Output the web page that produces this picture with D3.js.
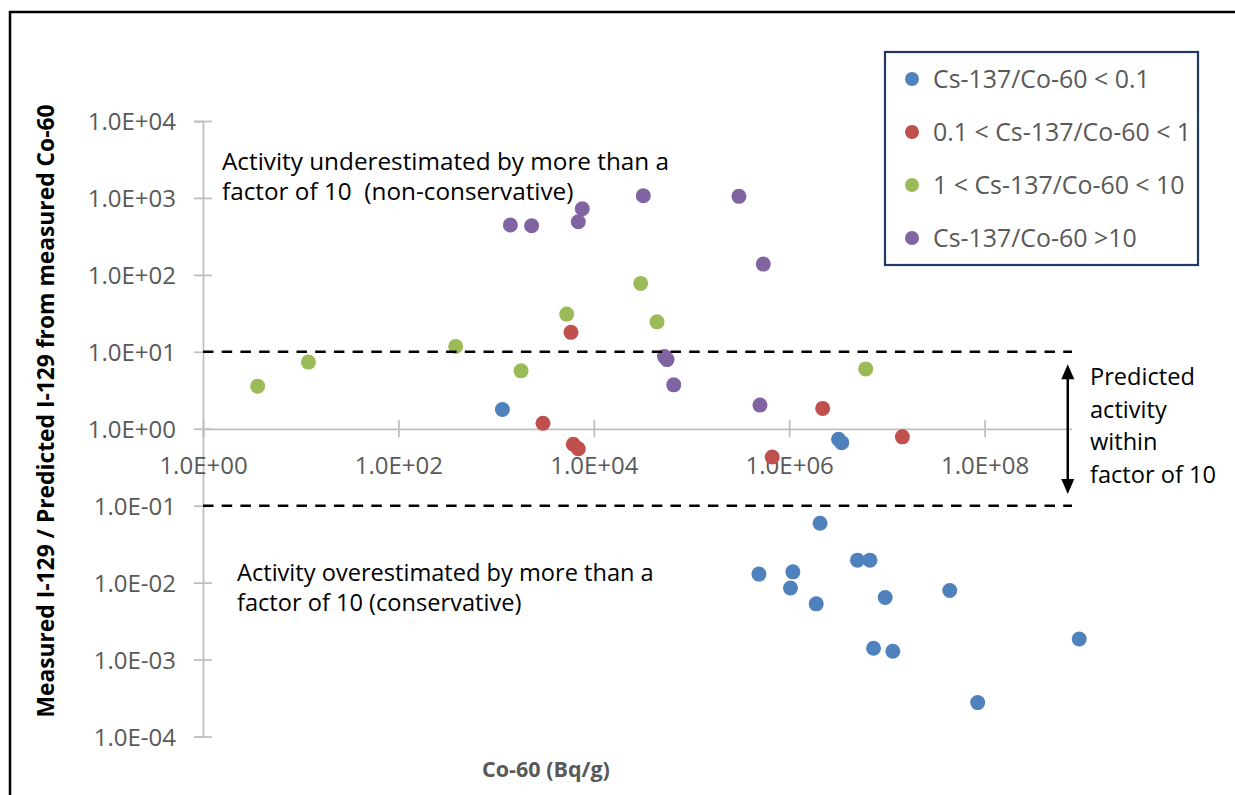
<!DOCTYPE html>
<html>
<head>
<meta charset="utf-8">
<script src="https://cdn.jsdelivr.net/npm/d3@7"></script>
<style>
  html, body { margin: 0; padding: 0; background: #fff; }
  svg { display: block; font-family: 'Open Sans', sans-serif; }
</style>
</head>
<body>
<svg id="chart" width="1235" height="795"></svg>
<script>
// Co-60 activity (Bq/g) and measured/predicted I-129 ratio, one pair of arrays per Cs-137/Co-60 group
const co60_lt01  = [1160, 2.07e6, 5.0e6, 6.7e6, 4.9e5, 1.09e6, 1.03e6, 1.89e6, 9.6e6, 4.4e7, 7.3e6, 1.15e7, 9.3e8, 8.5e7, 3.2e6, 3.45e6];
const ratio_lt01 = [1.78, 0.059, 0.0196, 0.0196, 0.0129, 0.0138, 0.0085, 0.0053, 0.0064, 0.0079, 0.0014, 0.00128, 0.00185, 0.000276, 0.73, 0.66];

const co60_01to1  = [5840, 3020, 6170, 6940, 6.7e5, 2.2e6, 1.44e7];
const ratio_01to1 = [17.9, 1.18, 0.63, 0.55, 0.43, 1.84, 0.785];

const co60_1to10  = [3.63, 12, 386, 1800, 5280, 3.02e4, 4.44e4, 6.07e6];
const ratio_1to10 = [3.58, 7.35, 11.75, 5.66, 30.9, 77.5, 24.5, 6.0];

const co60_gt10  = [1400, 2310, 6940, 7620, 3.21e4, 3.06e5, 5.43e5, 5.29e4, 5.62e4, 6.58e4, 5.02e5];
const ratio_gt10 = [444, 435, 490, 724, 1069, 1049, 138, 8.66, 7.92, 3.72, 2.03];

const seriesNames  = ['Cs-137/Co-60 < 0.1', '0.1 < Cs-137/Co-60 < 1', '1 < Cs-137/Co-60 < 10', 'Cs-137/Co-60 >10'];
const seriesColors = ['#4f81bd', '#c0504d', '#9bbb59', '#8064a2'];

const xTicks = [1, 1e2, 1e4, 1e6, 1e8];
const yTicks = [1e-4, 1e-3, 1e-2, 1e-1, 1, 1e1, 1e2, 1e3, 1e4];

// factor-of-10 band
const bandLimits = [10, 0.1];
const bandX = [1, 1e9];
const arrowX = 7.1e8;
const arrowY = [6.9, 0.142];

const noteUnder = ['Activity underestimated by more than a', 'factor of 10  (non-conservative)'];
const noteOver  = ['Activity overestimated by more than a', 'factor of 10 (conservative)'];
const noteBand  = ['Predicted', 'activity', 'within', 'factor of 10'];

const series = [
  [co60_lt01, ratio_lt01],
  [co60_01to1, ratio_01to1],
  [co60_1to10, ratio_1to10],
  [co60_gt10, ratio_gt10]
].map(([xs, ys], i) => ({ name: seriesNames[i], color: seriesColors[i], pts: xs.map((v, j) => ({ x: v, y: ys[j] })) }));

const svg = d3.select('#chart');

// chart frame (right/bottom edges fall outside the picture)
svg.append('rect')
  .attr('x', 10).attr('y', 12).attr('width', 1240).attr('height', 800)
  .attr('fill', '#fff').attr('stroke', '#000').attr('stroke-width', 2.5);

const x = d3.scaleLog().domain([1, 1e9]).range([203, 1082.3]);
const y = d3.scaleLog().domain([1e-4, 1e4]).range([736.5, 121]);

const fmtE = v => {
  const e = Math.round(Math.log10(v));
  return '1.0E' + (e < 0 ? '-' : '+') + String(Math.abs(e)).padStart(2, '0');
};
// keep runs of spaces visible in svg text
const keepSpaces = s => s.replace(/  /g, ' \u00a0');

const axisCol = '#bfbfbf';
const labelCol = '#595959';

// y axis
const gy = svg.append('g')
  .attr('transform', `translate(${x(1)},0)`)
  .call(d3.axisLeft(y).tickValues(yTicks).tickFormat(fmtE).tickSizeOuter(0).tickSize(9));
gy.select('.domain').attr('stroke', axisCol).attr('stroke-width', 1.75);
gy.selectAll('.tick line').attr('x1', 9).attr('x2', -9).attr('stroke', axisCol).attr('stroke-width', 1.75);
gy.selectAll('.tick text')
  .attr('x', -27).attr('dy', null).attr('y', 8.6)
  .attr('fill', labelCol).style('font-size', '24px').style('font-family', 'Open Sans');

// x axis crossing at y = 1
const gx = svg.append('g')
  .attr('transform', `translate(0,${y(1)})`)
  .call(d3.axisBottom(x).tickValues(xTicks).tickFormat(fmtE).tickSizeOuter(0).tickSize(8.5));
gx.select('.domain').attr('stroke', axisCol).attr('stroke-width', 1.75);
gx.selectAll('.tick line').attr('y1', -8.5).attr('y2', 8.5).attr('stroke', axisCol).attr('stroke-width', 1.75);
gx.selectAll('.tick text')
  .attr('dy', null).attr('y', 45.5)
  .attr('fill', labelCol).style('font-size', '24px').style('font-family', 'Open Sans');

// axis titles
svg.append('text')
  .attr('transform', `translate(54,411) rotate(-90)`)
  .attr('text-anchor', 'middle')
  .attr('font-weight', 'bold').attr('font-size', 22.8).attr('fill', '#000')
  .text('Measured I-129 / Predicted I-129 from measured Co-60');

svg.append('text')
  .attr('x', 546).attr('y', 777)
  .attr('text-anchor', 'middle')
  .attr('font-weight', 'bold').attr('font-size', 21.5).attr('fill', labelCol)
  .text('Co-60 (Bq/g)');

// points
const gPts = svg.append('g');
series.forEach(s => {
  gPts.selectAll(null)
    .data(s.pts)
    .join('circle')
    .attr('cx', d => x(d.x))
    .attr('cy', d => y(d.y))
    .attr('r', 7.5)
    .attr('fill', s.color);
});

// dashed factor-of-10 lines
const line = d3.line().x(d => x(d[0])).y(d => y(d[1]));
bandLimits.forEach(lim => {
  svg.append('path')
    .attr('d', line(bandX.map(v => [v, lim])))
    .attr('fill', 'none')
    .attr('stroke', '#000')
    .attr('stroke-width', 2.6)
    .attr('stroke-dasharray', '10.5 8.2');
});

// annotation text box (white fill hides the ends of the lines)
svg.append('rect')
  .attr('x', 1072).attr('y', 340).attr('width', 160).attr('height', 176)
  .attr('fill', '#fff');

// double-headed arrow
const ax = x(arrowX), ay0 = y(arrowY[0]), ay1 = y(arrowY[1]);
svg.append('line')
  .attr('x1', ax).attr('x2', ax).attr('y1', ay0 + 12).attr('y2', ay1 - 12)
  .attr('stroke', '#000').attr('stroke-width', 2.5);
svg.append('path')
  .attr('d', `M${ax},${ay0} L${ax - 6.5},${ay0 + 15} L${ax + 6.5},${ay0 + 15} Z`)
  .attr('fill', '#000');
svg.append('path')
  .attr('d', `M${ax},${ay1} L${ax - 6.5},${ay1 - 15} L${ax + 6.5},${ay1 - 15} Z`)
  .attr('fill', '#000');

const notes = svg.append('g').attr('fill', '#000').attr('font-size', 23.6);
notes.selectAll('.nu').data(noteUnder).join('text')
  .attr('x', 222).attr('y', (d, i) => 170 + i * 30)
  .attr('font-size', 24.3).text(d => keepSpaces(d));
notes.selectAll('.no').data(noteOver).join('text')
  .attr('x', 237).attr('y', (d, i) => 581 + i * 30).text(d => d);
notes.selectAll('.nb').data(noteBand).join('text')
  .attr('x', 1090).attr('y', (d, i) => 385 + i * 32.7).text(d => d);

// legend
const lg = svg.append('g');
lg.append('rect')
  .attr('x', 885).attr('y', 52).attr('width', 313).attr('height', 213)
  .attr('fill', '#fff').attr('stroke', '#1f3864').attr('stroke-width', 2.2);
const items = lg.selectAll('g.item').data(series).join('g')
  .attr('class', 'item')
  .attr('transform', (d, i) => `translate(912,${79 + i * 53})`);
items.append('circle').attr('r', 7).attr('fill', d => d.color);
items.append('text')
  .attr('x', 21).attr('y', 8.8)
  .attr('fill', labelCol).attr('font-size', 24.9)
  .text(d => d.name);
</script>
</body>
</html>
